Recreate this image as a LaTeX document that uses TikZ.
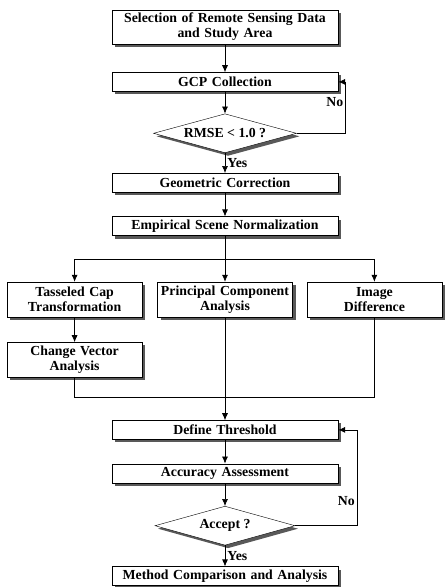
\documentclass[tikz,border=0pt]{standalone}
\usepackage{fontspec}
\setmainfont{Liberation Serif}
\usepackage{tikz}
\usetikzlibrary{shapes.geometric, arrows.meta, positioning, shadows}

\begin{document}
\begin{tikzpicture}[x=1pt, y=1pt,
        block/.style={rectangle, draw, fill=white, align=center, inner sep=2pt, font=\bfseries\fontsize{13.8}{15}\selectfont, drop shadow={shadow xshift=3pt, shadow yshift=-3pt, fill=black!65, opacity=1}},
        wide/.style={block, text width=222pt, minimum height=19pt},
        small/.style={block, text width=131pt, minimum height=35pt},
        decision/.style={diamond, draw, fill=white, shape aspect=3.6, minimum width=143pt, minimum height=39pt, inner sep=0pt, font=\bfseries\fontsize{13.8}{15}\selectfont, drop shadow={shadow xshift=3pt, shadow yshift=-3pt, fill=black!65, opacity=1}},
        lbl/.style={font=\bfseries\fontsize{13.8}{15}\selectfont, inner sep=2pt},
        line/.style={draw, -{Latex[length=7pt, width=6pt]}, line width=0.7pt}]
        \useasboundingbox (0,0) rectangle (446,-587);

        \node [wide, minimum height=34pt] (sel) at (225,-27) {Selection of Remote Sensing Data\\and Study Area};
        \node [wide, below=28pt of sel] (gcp) {GCP Collection};
        \node [decision, below=22pt of gcp] (rmse) {RMSE < 1.0 ?};
        \node [wide, below=20pt of rmse] (geo) {Geometric Correction};
        \node [wide, below=24pt of geo] (emp) {Empirical Scene Normalization};
        \coordinate [below=24pt of emp] (split);

        \node [small, below=46pt of emp] (pca) {Principal Component\\Analysis};
        \node [small, left=15pt of pca] (tcap) {Tasseled Cap\\Transformation};
        \node [small, right=14pt of pca] (imd) {Image\\Difference};
        \node [small, below=25pt of tcap] (cva) {Change Vector\\Analysis};
        \coordinate [below=80pt of pca] (merge);

        \node [wide, below=103pt of pca] (thr) {Define Threshold};
        \node [wide, below=24pt of thr] (acc) {Accuracy Assessment};
        \node [decision, minimum width=140pt, below=23pt of acc] (accept) {Accept ?};
        \node [wide, below=21pt of accept] (meth) {Method Comparison and Analysis};

        % geometric part
        \path [line] (sel) -- (gcp);
        \path [line] (gcp) -- (rmse);
        \path [line] (rmse) -- node [lbl, right] {Yes} (geo);
        \path [line] (rmse.east) -- ++(49,0) |- node [lbl, left, pos=0.3] {No} (gcp.east);
        \path [line] (geo) -- (emp);

        % change detection methods
        \path [line] (emp) -- (pca);
        \path [line] (split) -| (tcap);
        \path [line] (split) -| (imd);
        \path [line] (tcap) -- (cva);
        \draw [line width=0.7pt] (cva) |- (merge) -| (imd);
        \path [line] (pca) -- (thr);

        % threshold and assessment
        \path [line] (thr) -- (acc);
        \path [line] (acc) -- (accept);
        \path [line] (accept) -- node [lbl, right] {Yes} (meth);
        \path [line] (accept.east) -- ++(62,0) |- node [lbl, left, pos=0.13] {No} (thr.east);
    \end{tikzpicture}
\end{document}
